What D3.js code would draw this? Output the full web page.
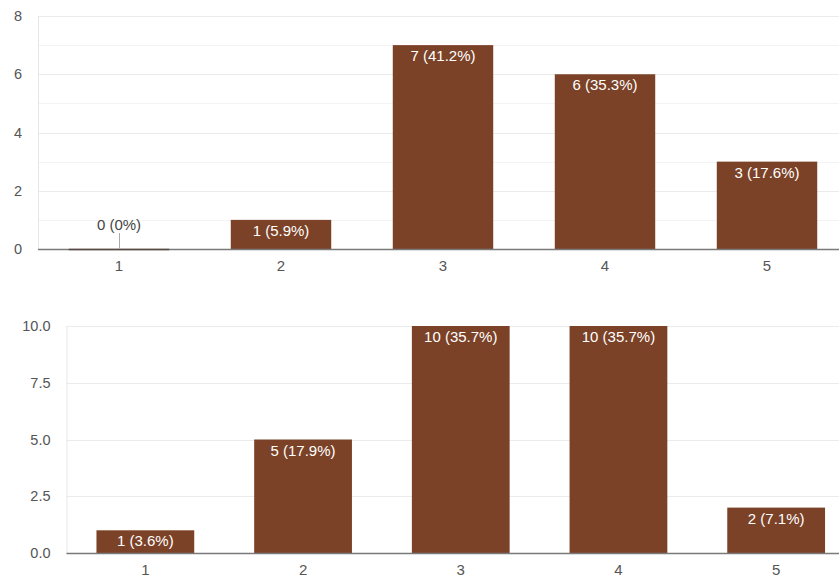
<!DOCTYPE html>
<html>
<head>
<meta charset="utf-8">
<script src="https://cdn.jsdelivr.net/npm/d3@7"></script>
<style>
  html, body { margin: 0; padding: 0; background: #fff; }
  svg { display: block; font-family: Arial, "Liberation Sans", sans-serif; }
</style>
</head>
<body>
<svg id="chart" width="839" height="577"></svg>
<script>
const categories = ["1", "2", "3", "4", "5"];
const valuesTop = [0, 1, 7, 6, 3];
const valuesBottom = [1, 5, 10, 10, 2];
const ticksTop = [0, 2, 4, 6, 8];
const minorTicksTop = [1, 3, 5, 7];
const ticksBottom = [0, 2.5, 5, 7.5, 10];
const tickLabelsBottom = ["0.0", "2.5", "5.0", "7.5", "10.0"];

const barColor = "#7b4227";
const svg = d3.select("#chart");

function pctLabel(v, total) {
  const p = Math.round(v / total * 1000) / 10;
  return v + " (" + (Number.isInteger(p) ? p.toFixed(0) : p.toFixed(1)) + "%)";
}

function drawChart(opts) {
  const { values, left, right, top, bottom, yMax, ticks, tickLabels, minor } = opts;
  const total = d3.sum(values);
  const g = svg.append("g");
  const x = d3.scaleBand().domain(categories).range([left, right]).paddingInner(0.38).paddingOuter(0.19);
  const y = d3.scaleLinear().domain([0, yMax]).range([bottom, top]);

  g.selectAll(".minor").data(minor).join("line")
    .attr("x1", left).attr("x2", 839)
    .attr("y1", d => Math.round(y(d)) + 0.5).attr("y2", d => Math.round(y(d)) + 0.5)
    .attr("stroke", "#f3f3f3").attr("stroke-width", 1);
  g.selectAll(".major").data(ticks.filter(t => t > 0)).join("line")
    .attr("x1", left).attr("x2", 839)
    .attr("y1", d => Math.round(y(d)) + 0.5).attr("y2", d => Math.round(y(d)) + 0.5)
    .attr("stroke", "#ebebeb").attr("stroke-width", 1);
  g.append("line")
    .attr("x1", left + 0.5).attr("x2", left + 0.5)
    .attr("y1", y(yMax)).attr("y2", bottom)
    .attr("stroke", "#e6e6e6");

  g.selectAll(".ylab").data(ticks).join("text")
    .attr("x", left - 16).attr("y", d => y(d))
    .attr("dy", "0.36em")
    .attr("text-anchor", "end")
    .attr("font-size", 14.5).attr("fill", "#555")
    .text((d, i) => tickLabels[i]);

  g.selectAll(".bar").data(values).join("rect")
    .attr("x", (d, i) => x(categories[i]))
    .attr("width", x.bandwidth())
    .attr("y", d => y(d))
    .attr("height", d => bottom - y(d))
    .attr("fill", barColor);

  g.append("line")
    .attr("x1", left).attr("x2", 839)
    .attr("y1", bottom + 0.5).attr("y2", bottom + 0.5)
    .attr("stroke", "#7a7a7a").attr("stroke-width", 1.5);

  values.forEach((v, i) => {
    const cx = x(categories[i]) + x.bandwidth() / 2;
    if (v === 0) {
      g.append("line")
        .attr("x1", x(categories[i])).attr("x2", x(categories[i]) + x.bandwidth())
        .attr("y1", bottom + 0.5).attr("y2", bottom + 0.5)
        .attr("stroke", "#5a4a44").attr("stroke-width", 1.5);
      g.append("line")
        .attr("x1", cx + 0.5).attr("x2", cx + 0.5)
        .attr("y1", bottom - 16).attr("y2", bottom)
        .attr("stroke", "#aaa");
      g.append("text")
        .attr("x", cx).attr("y", bottom - 19)
        .attr("text-anchor", "middle").attr("font-size", 15).attr("fill", "#444")
        .text(pctLabel(v, total));
    } else {
      g.append("text")
        .attr("x", cx).attr("y", y(v) + 16)
        .attr("text-anchor", "middle").attr("font-size", 15).attr("fill", "#fff")
        .text(pctLabel(v, total));
    }
  });

  g.selectAll(".xlab").data(categories).join("text")
    .attr("x", d => x(d) + x.bandwidth() / 2)
    .attr("y", bottom + 22)
    .attr("text-anchor", "middle").attr("font-size", 15).attr("fill", "#555")
    .text(d => d);
}

drawChart({
  values: valuesTop, left: 38, right: 848, top: 16, bottom: 249, yMax: 8,
  ticks: ticksTop, tickLabels: ticksTop.map(String), minor: minorTicksTop
});
drawChart({
  values: valuesBottom, left: 66.5, right: 855, top: 326, bottom: 553, yMax: 10,
  ticks: ticksBottom, tickLabels: tickLabelsBottom, minor: []
});
</script>
</body>
</html>
